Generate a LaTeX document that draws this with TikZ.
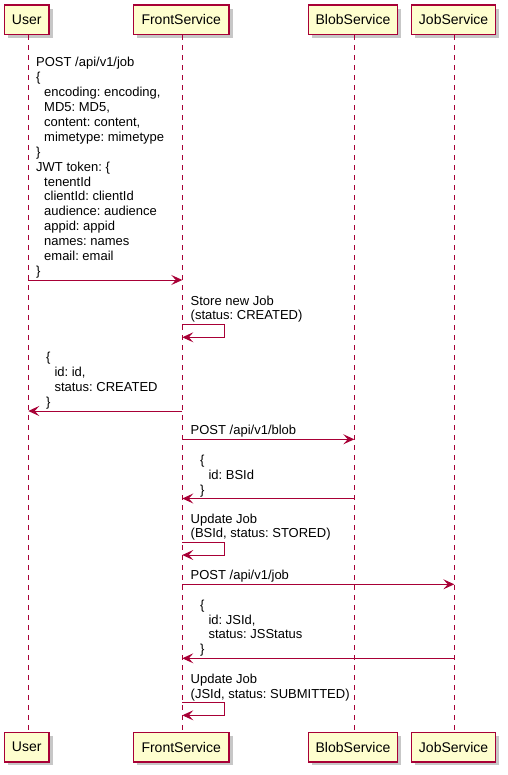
\documentclass[tikz,border=0pt]{standalone}
\usepackage{fontspec}
\setmainfont{Liberation Sans}
\frenchspacing
\usetikzlibrary{arrows.meta,shadows}
\definecolor{pu}{HTML}{A80036}
\definecolor{pbg}{HTML}{FEFECE}
\tikzset{
  part/.style={draw=pu, fill=pbg, line width=1.4pt, minimum height=29.3pt, inner sep=0pt,
    font=\fontsize{14}{16}\selectfont,
    drop shadow={shadow xshift=3.5pt, shadow yshift=-3.5pt, fill=black, opacity=0.22}},
  life/.style={draw=pu, line width=1pt, dash pattern=on 5pt off 5pt},
  msg/.style={draw=pu, line width=1pt, -{Stealth[length=11pt,width=10pt,inset=4.5pt]}},
  txt/.style={font=\fontsize{13}{14.9}\selectfont\frenchspacing, align=left, inner sep=0pt, anchor=base west}
}
\begin{document}
\begin{tikzpicture}[x=1pt,y=-1pt]
\useasboundingbox (0,0) rectangle (507,775);
% participants
\node[part, minimum width=44.5pt] (Ut) at (26.75,19.7) {User};
\node[part, minimum width=95.7pt] (Ft) at (181.2,19.7) {FrontService};
\node[part, minimum width=89.4pt] (Bt) at (353,19.7) {BlobService};
\node[part, minimum width=83.8pt] (Jt) at (453.6,19.7) {JobService};
\node[part, minimum width=44.5pt] (Ub) at (26.75,747.2) {User};
\node[part, minimum width=95.7pt] (Fb) at (181.2,747.2) {FrontService};
\node[part, minimum width=89.4pt] (Bb) at (353,747.2) {BlobService};
\node[part, minimum width=83.8pt] (Jb) at (453.6,747.2) {JobService};
% lifelines
\coordinate (U) at ([xshift=1.5pt]Ut.south);
\coordinate (F) at ([xshift=1.1pt]Ft.south);
\coordinate (B) at ([xshift=1.3pt]Bt.south);
\coordinate (J) at ([xshift=0.7pt]Jt.south);
\draw[life] (U) -- (U |- Ub.north);
\draw[life] (F) -- (F |- Fb.north);
\draw[life] (B) -- (B |- Bb.north);
\draw[life] (J) -- (J |- Jb.north);
% message 1
\node[txt] (t1) at (36,275.5) {POST /api/v1/job\\\{\\\hspace*{8pt}encoding: encoding,\\\hspace*{8pt}MD5: MD5,\\\hspace*{8pt}content: content,\\\hspace*{8pt}mimetype: mimetype\\\}\\JWT token: \{\\\hspace*{8pt}tenentId\\\hspace*{8pt}clientId: clientId\\\hspace*{8pt}audience: audience\\\hspace*{8pt}appid: appid\\\hspace*{8pt}names: names\\\hspace*{8pt}email: email\\\}};
\draw[msg] (U |- 0,280) -- (F |- 0,280);
% self 1
\node[txt] (t2) at (190.5,319.9) {Store new Job\\(status: CREATED)};
\draw[msg] (F |- 0,324.3) -- ++(42,0) -- ++(0,13) -- (F |- 0,337.3);
% response 1
\node[txt] (t3) at (46,406.5) {\{\\\hspace*{8.3pt}id: id,\\\hspace*{8.3pt}status: CREATED\\\}};
\draw[msg] (F |- 0,411) -- (U |- 0,411);
% message blob
\node[txt] (t4) at (190.5,434.8) {POST /api/v1/blob};
\draw[msg] (F |- 0,439.3) -- (B |- 0,439.3);
% response blob
\node[txt] (t5) at (200,494) {\{\\\hspace*{8.3pt}id: BSId\\\}};
\draw[msg] (B |- 0,498.5) -- (F |- 0,498.5);
% self 2
\node[txt] (t6) at (190.5,537.9) {Update Job\\(BSId, status: STORED)};
\draw[msg] (F |- 0,542.3) -- ++(42,0) -- ++(0,12.7) -- (F |- 0,555);
% message job
\node[txt] (t7) at (190.5,579.8) {POST /api/v1/job};
\draw[msg] (F |- 0,584.3) -- (J |- 0,584.3);
% response job
\node[txt] (t8) at (200,653.8) {\{\\\hspace*{8.3pt}id: JSId,\\\hspace*{8.3pt}status: JSStatus\\\}};
\draw[msg] (J |- 0,658.3) -- (F |- 0,658.3);
% self 3
\node[txt] (t9) at (190.5,698.3) {Update Job\\(JSId, status: SUBMITTED)};
\draw[msg] (F |- 0,702.7) -- ++(42,0) -- ++(0,12.6) -- (F |- 0,715.3);
\end{tikzpicture}
\end{document}
